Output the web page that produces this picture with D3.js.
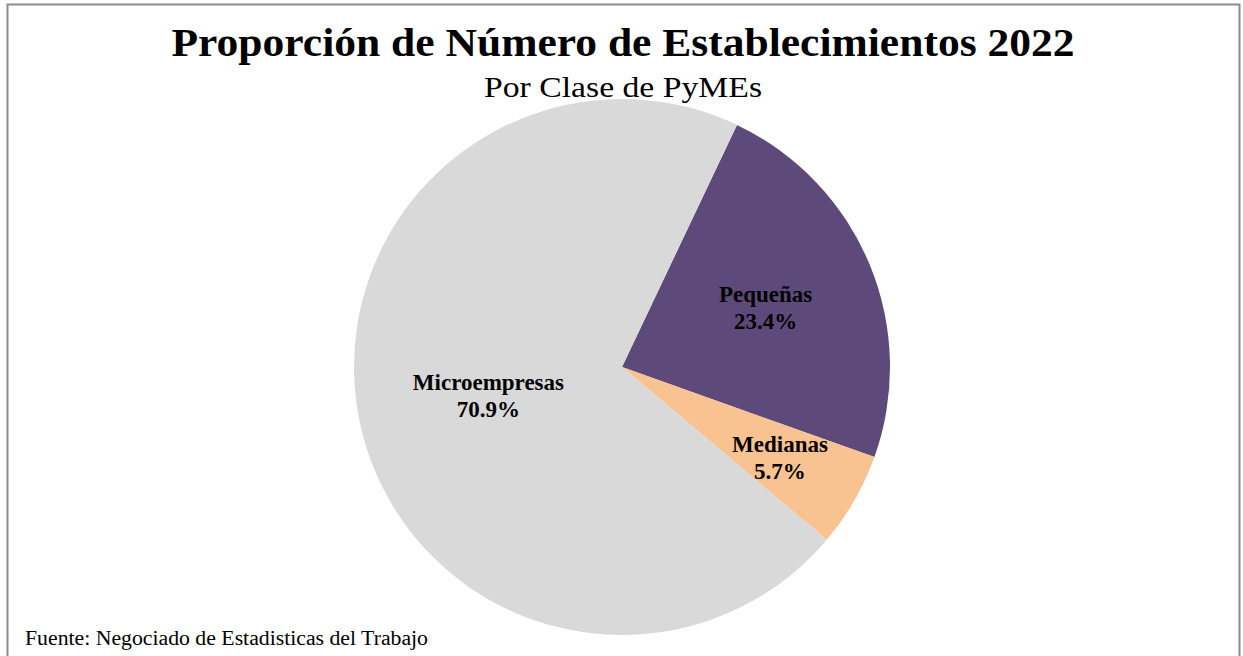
<!DOCTYPE html>
<html><head><meta charset="utf-8">
<script src="https://cdn.jsdelivr.net/npm/d3@7"></script>
<style>body{margin:0;background:#fff}svg{display:block}</style>
</head><body>
<svg id="c" width="1243" height="656"></svg>
<script>
const categories = ["Pequeñas", "Medianas", "Microempresas"];
const values = [23.4, 5.7, 70.9];
const valueLabels = ["23.4%", "5.7%", "70.9%"];
const colors = ["#5e4a7a", "#f9c291", "#d9d9d9"];
const labelRadiusFrac = [0.58, 0.68, 0.51];

const svg = d3.select("#c");
const serif = "'Liberation Serif','Times New Roman',serif";

svg.append("rect").attr("x", 7.5).attr("y", 4.5).attr("width", 1232).attr("height", 700)
  .attr("fill", "#fff").attr("stroke", "#8c8c8c").attr("stroke-width", 2);

svg.append("text").attr("x", 623).attr("y", 56).attr("text-anchor", "middle")
  .attr("font-family", serif).attr("font-weight", "bold").attr("font-size", 41)
  .attr("textLength", 903).attr("lengthAdjust", "spacingAndGlyphs")
  .text("Proporción de Número de Establecimientos 2022");
svg.append("text").attr("x", 623).attr("y", 97).attr("text-anchor", "middle")
  .attr("font-family", serif).attr("font-size", 29)
  .attr("textLength", 278).attr("lengthAdjust", "spacingAndGlyphs")
  .text("Por Clase de PyMEs");

const cx = 622, cy = 367, r = 268;
const startDeg = 25.4;
const pie = d3.pie().sort(null).value(d => d)
  .startAngle(startDeg * Math.PI / 180).endAngle((startDeg + 360) * Math.PI / 180);
const arcs = pie(values);
const arc = d3.arc().innerRadius(0).outerRadius(r);
const g = svg.append("g").attr("transform", `translate(${cx},${cy})`);
g.selectAll("path").data(arcs).join("path").attr("d", arc)
  .attr("fill", (d, i) => colors[i]).attr("stroke", "none");

arcs.forEach((d, i) => {
  const a = (d.startAngle + d.endAngle) / 2;
  const lr = r * labelRadiusFrac[i];
  const x = Math.sin(a) * lr, y = -Math.cos(a) * lr;
  const t = g.append("text").attr("text-anchor", "middle")
    .attr("font-family", serif).attr("font-weight", "bold").attr("font-size", 23)
    .attr("fill", "#000");
  t.append("tspan").attr("x", x).attr("y", y - 6).text(categories[i]);
  t.append("tspan").attr("x", x).attr("y", y + 21).text(valueLabels[i]);
});

svg.append("text").attr("x", 25).attr("y", 645)
  .attr("font-family", serif).attr("font-size", 20).attr("fill", "#000")
  .attr("textLength", 403).attr("lengthAdjust", "spacingAndGlyphs")
  .text("Fuente: Negociado  de Estadisticas del Trabajo");
</script>
</body></html>
